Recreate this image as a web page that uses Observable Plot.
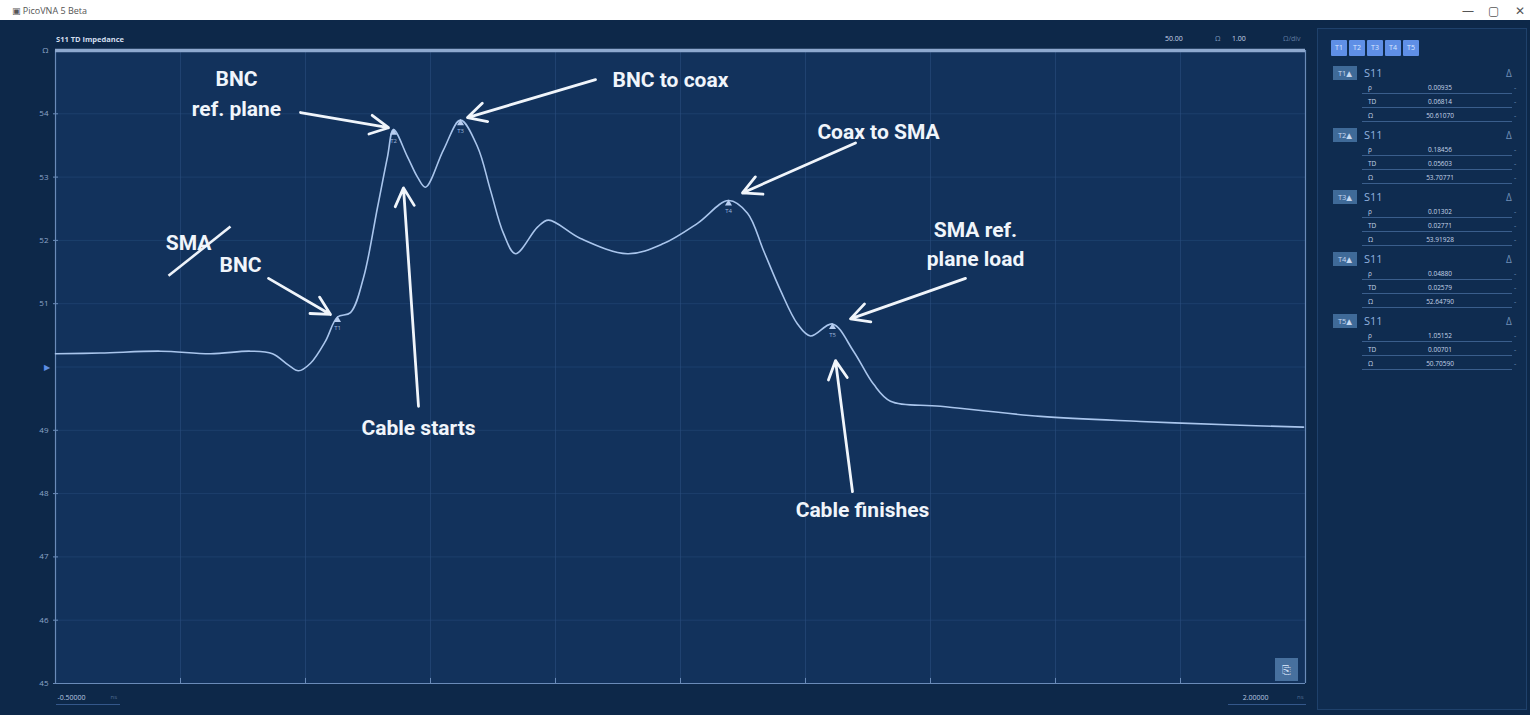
<!DOCTYPE html>
<html>
<head>
<meta charset="utf-8">
<script src="https://cdn.jsdelivr.net/npm/d3@7"></script>
<script src="https://cdn.jsdelivr.net/npm/@observablehq/plot@0.6"></script>
<style>
  html, body { margin: 0; padding: 0; width: 1530px; height: 715px; overflow: hidden; background: #0d2849; font-family: "Open Sans", "DejaVu Sans", sans-serif; }
  #titlebar { position: absolute; left: 0; top: 0; width: 1530px; height: 20px; background: #ffffff; }
  #titlebar .t { position: absolute; left: 12px; top: 4px; font-size: 9px; color: #555; }
  #titlebar .c { position: absolute; top: 2px; font-size: 12px; color: #555; }
  #chart { position: absolute; left: 8px; top: 20px; }
  #panel { position: absolute; left: 1317px; top: 28px; width: 208px; height: 680px; border: 1px solid #1f416b; background: #0f2c50; }
  .btn { position: absolute; top: 11px; width: 16px; height: 16px; background: #5f8fe6; color: #dbe8ff; font-size: 7px; line-height: 16px; text-align: center; border-radius: 1px; }
  .tag { position: absolute; width: 24px; height: 14px; background: #3f6a98; color: #c6d8f0; font-size: 7.5px; line-height: 14px; text-align: center; }
  .sname { position: absolute; font-size: 11px; color: #8fb0df; }
  .delta { position: absolute; font-size: 10px; color: #6f8fb8; }
  .rowlab { position: absolute; font-size: 6.5px; color: #c5d4e8; }
  .rowval { position: absolute; font-size: 6.5px; color: #c5d4e8; width: 80px; text-align: center; }
  .rowdash { position: absolute; font-size: 7px; color: #6f8fb8; }
  .uline { position: absolute; height: 1px; background: #3a5e8c; width: 150px; }
  .hdr { position: absolute; font-size: 7.5px; color: #d3deee; font-weight: bold; }
  .hsmall { position: absolute; font-size: 7px; color: #c9d6ea; }
  .xline { position: absolute; height: 1px; background: #34578a; }
  #iconbtn { position: absolute; left: 1275px; top: 658px; width: 23px; height: 23px; background: #47709e; color: #c8d9ef; font-size: 11px; line-height: 23px; text-align: center; }
</style>
</head>
<body>
<div id="titlebar">
  <span class="t">▣ PicoVNA 5 Beta</span>
  <span class="c" style="left:1462px">—</span>
  <span class="c" style="left:1488px">▢</span>
  <span class="c" style="left:1515px">✕</span>
</div>
<div id="chart"></div>
<div id="panel"></div>
<div class="hdr" style="left:56px; top:34px">S11 TD Impedance</div>
<div class="hsmall" style="left:1165px; top:34px">50.00</div>
<div class="hsmall" style="left:1215px; top:34px; color:#7f98bb">Ω</div>
<div class="hsmall" style="left:1232px; top:34px">1.00</div>
<div class="hsmall" style="left:1283px; top:34px; color:#5f7aa0">Ω/div</div>
<div class="xline" style="left:56px; top:704px; width:64px"></div>
<div class="xline" style="left:1228px; top:704px; width:78px"></div>
<div id="iconbtn">⎘</div>
<script>
// ---------------- data ----------------
const timeNs = [-0.5, -0.41, -0.29, -0.19, -0.11, -0.066, -0.034, -0.014, 0.01, 0.04, 0.064, 0.09, 0.116, 0.144, 0.164, 0.176, 0.204, 0.224, 0.24, 0.276, 0.31, 0.344, 0.37, 0.396, 0.42, 0.464, 0.486, 0.55, 0.644, 0.716, 0.784, 0.846, 0.884, 0.916, 0.95, 0.984, 1.01, 1.054, 1.096, 1.136, 1.17, 1.27, 1.47, 1.67, 1.87, 1.996];
const impedanceOhm = [50.21, 50.22, 50.25, 50.21, 50.25, 50.21, 50.03, 49.94, 50.06, 50.41, 50.79, 50.86, 51.41, 52.52, 53.32, 53.75, 53.32, 53.0, 52.84, 53.43, 53.9, 53.48, 52.79, 52.11, 51.79, 52.21, 52.32, 52.03, 51.79, 51.95, 52.27, 52.63, 52.43, 51.84, 51.21, 50.68, 50.49, 50.68, 50.25, 49.73, 49.46, 49.38, 49.22, 49.14, 49.08, 49.05];

const markerNames = ["T1", "T2", "T3", "T4", "T5"];
const markerTime = [0.064, 0.176, 0.31, 0.846, 1.054];
const markerZ = [50.79, 53.75, 53.9, 52.63, 50.68];
const markerRho = ["0.00935", "0.18456", "0.01302", "0.04880", "1.05152"];
const markerTD = ["0.06814", "0.05603", "0.02771", "0.02579", "0.00701"];
const markerOhm = ["50.61070", "53.70771", "53.91928", "52.64790", "50.70590"];

const yTicks = [45, 46, 47, 48, 49, 50, 51, 52, 53, 54, 55];
const yTickLabels = ["45", "46", "47", "48", "49", "", "51", "52", "53", "54", "Ω"];
const xGridTicks = [-0.25, 0, 0.25, 0.5, 0.75, 1, 1.25, 1.5, 1.75];
const xDomain = [-0.5, 2.0];
const yDomain = [45, 55];
const xEndLabels = ["-0.50000", "2.00000"];
const xUnit = "ns";

const annoLabels = ["BNC\nref. plane", "BNC to coax", "Coax to SMA", "SMA ref.\nplane load", "Cable starts", "Cable finishes", "SMA", "BNC"];
const annoX = [-0.138, 0.73, 1.146, 1.34, 0.226, 1.114, -0.234, -0.13];
const annoY = [54.35, 54.57, 53.75, 51.97, 49.08, 47.78, 52.0, 51.65];

const arrowX1 = [-0.01, 0.58, 1.10, 1.32, 0.226, 1.094, -0.074];
const arrowY1 = [54.02, 54.54, 53.54, 51.40, 49.38, 48.03, 51.40];
const arrowX2 = [0.166, 0.324, 0.874, 1.09, 0.196, 1.06, 0.05];
const arrowY2 = [53.78, 53.94, 52.75, 50.76, 52.83, 50.10, 50.83];
const slashX = [-0.274, -0.15];
const slashY = [51.44, 52.22];

// ---------------- build tables ----------------
const trace = timeNs.map((t, i) => ({t, z: impedanceOhm[i]}));
const markers = markerNames.map((n, i) => ({n, t: markerTime[i], z: markerZ[i]}));
const annos = annoLabels.map((s, i) => ({s, x: annoX[i], y: annoY[i]}));
const arrows = arrowX1.map((x1, i) => ({x1, y1: arrowY1[i], x2: arrowX2[i], y2: arrowY2[i]}));
const yTickRows = yTicks.map((v, i) => ({v, s: yTickLabels[i], x: xDomain[0]}));
const leftEnd = [{x: xDomain[0], y: yDomain[0], s: xEndLabels[0]}];
const rightEnd = [{x: xDomain[1], y: yDomain[0], s: xEndLabels[1]}];

const W = 1302, H = 695;
const chart = Plot.plot({
  width: W, height: H,
  marginLeft: 47, marginRight: W - 1297, marginTop: 30, marginBottom: 32,
  style: {background: "transparent", color: "#8ea7c9", fontFamily: "Open Sans, sans-serif", overflow: "visible"},
  x: {type: "linear", domain: xDomain, axis: null},
  y: {type: "linear", domain: yDomain, axis: null},
  marks: [
    Plot.frame({fill: "#12325c", stroke: null}),
    Plot.ruleX(xGridTicks, {stroke: "#2b5081", strokeOpacity: 0.55}),
    Plot.ruleY(yTicks.filter(v => v > 45 && v < 55), {stroke: "#2b5081", strokeOpacity: 0.45}),
    Plot.ruleX(xDomain, {stroke: "#6a8bb8", strokeWidth: 1.2}),
    Plot.ruleY([yDomain[0]], {stroke: "#6a8bb8", strokeWidth: 1.2}),
    Plot.ruleY([yDomain[1]], {stroke: "#8ea9cf", strokeWidth: 3.5}),
    Plot.ruleX(xGridTicks, {y1: yDomain[0], y2: yDomain[0] + 0.08, stroke: "#6a8bb8"}),
    // y axis labels and ticks
    Plot.ruleY(yTicks.filter(v => v !== 50 && v !== 55), {x1: xDomain[0] - 0.004, x2: xDomain[0] + 0.006, stroke: "#6a8bb8", clip: false}),
    Plot.text(yTickRows, {x: "x", y: "v", text: "s", textAnchor: "end", dx: -7, fontSize: 8, fill: "#8ea7c9"}),
    Plot.text([{x: xDomain[0], y: 50}], {x: "x", y: "y", text: () => "▶", dx: -9, fontSize: 8, fill: "#5d8fe4"}),
    // x end labels
    Plot.text(leftEnd, {x: "x", y: "y", text: "s", textAnchor: "start", dx: 2, dy: 14, fontSize: 7, fill: "#b9c9e0"}),
    Plot.text(leftEnd, {x: "x", y: "y", text: () => xUnit, textAnchor: "start", dx: 55, dy: 14, fontSize: 6, fill: "#4f6c93"}),
    Plot.text(rightEnd, {x: "x", y: "y", text: "s", textAnchor: "end", dx: -37, dy: 14, fontSize: 7, fill: "#b9c9e0"}),
    Plot.text(rightEnd, {x: "x", y: "y", text: () => xUnit, textAnchor: "end", dx: -2, dy: 14, fontSize: 6, fill: "#4f6c93"}),
    // trace
    Plot.line(trace, {x: "t", y: "z", stroke: "#a9c5ec", strokeWidth: 1.6, curve: "catmull-rom"}),
    // markers
    Plot.dot(markers, {x: "t", y: "z", symbol: "triangle", r: 2.6, fill: "#b7cdf0", stroke: null, dy: 3}),
    Plot.text(markers, {x: "t", y: "z", text: "n", fontSize: 6, fill: "#9db7dd", dy: 11}),
    // annotations
    Plot.link([{x1: slashX[0], y1: slashY[0], x2: slashX[1], y2: slashY[1]}], {x1: "x1", y1: "y1", x2: "x2", y2: "y2", stroke: "#eef3fa", strokeWidth: 2.6}),
    Plot.arrow(arrows, {x1: "x1", y1: "y1", x2: "x2", y2: "y2", stroke: "#f0f5fb", strokeWidth: 2.8, headLength: 11, headAngle: 55}),
    Plot.text(annos, {x: "x", y: "y", text: "s", fontSize: 21, fontWeight: "bold", fill: "#f0f5fb", lineHeight: 1.4, fontFamily: "Roboto, Open Sans, sans-serif"})
  ]
});
document.getElementById("chart").appendChild(chart);

// ---------------- right marker panel ----------------
const panel = document.getElementById("panel");
let html = "";
markerNames.forEach((n, i) => {
  html += `<div class="btn" style="left:${13 + i * 18}px">${n}</div>`;
});
markerNames.forEach((n, i) => {
  const top = 37 + i * 62;
  html += `<div class="tag" style="left:15px; top:${top}px">${n}▲</div>`;
  html += `<div class="sname" style="left:46px; top:${top - 1}px">S11</div>`;
  html += `<div class="delta" style="left:188px; top:${top}px">Δ</div>`;
  const labs = ["ρ", "TD", "Ω"];
  const vals = [markerRho[i], markerTD[i], markerOhm[i]];
  labs.forEach((l, j) => {
    const ry = top + 17 + j * 14;
    html += `<div class="rowlab" style="left:50px; top:${ry}px">${l}</div>`;
    html += `<div class="rowval" style="left:82px; top:${ry}px">${vals[j]}</div>`;
    html += `<div class="rowdash" style="left:196px; top:${ry}px">-</div>`;
    html += `<div class="uline" style="left:44px; top:${ry + 10}px"></div>`;
  });
});
panel.innerHTML = html;
</script>
</body>
</html>
